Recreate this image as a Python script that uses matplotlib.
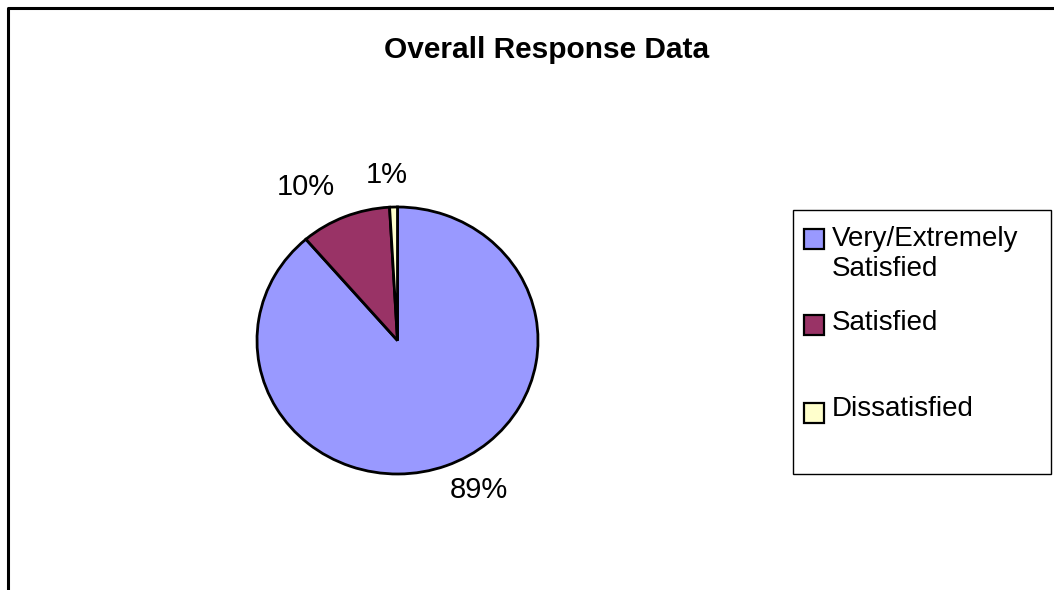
import matplotlib
matplotlib.use("Agg")
import matplotlib.pyplot as plt
from matplotlib.lines import Line2D
from matplotlib.patches import Rectangle

plt.rcParams['font.family'] = ['Liberation Sans', 'DejaVu Sans']

# ---- data ----
categories = ["Very/Extremely\nSatisfied", "Satisfied", "Dissatisfied"]
shares = [88.7, 10.4, 0.9]
colors = ["#9999FF", "#993366", "#FFFFCC"]
title = "Overall Response Data"

W, H = 1054, 590
fig = plt.figure(figsize=(W / 100, H / 100), dpi=100)
fig.patch.set_facecolor("white")


def fx(px):
    return px / W


def fy(py):
    return 1 - py / H


# pie axes (pixel bounds of the ellipse)
left, right, top, bottom = 257, 538, 207, 474
ax = fig.add_axes([fx(left), fy(bottom), (right - left) / W, (bottom - top) / H])
wedges, _ = ax.pie(shares, colors=colors, startangle=90, counterclock=False,
                   wedgeprops=dict(edgecolor="black", linewidth=2.0))
ax.set_aspect("auto")
ax.set_xlim(-1, 1)
ax.set_ylim(-1, 1)
ax.axis("off")

# percentage labels (positions in pie-radius units)
label_pos = [(0.58, -1.12), (-0.65, 1.15), (-0.075, 1.24)]
for val, (lx, ly) in zip(shares, label_pos):
    ax.text(lx, ly, f"{val:.0f}%", ha="center", va="center", fontsize=21,
            color="black", clip_on=False)

# title
fig.text(fx(547), fy(50), title, ha="center", va="center", fontsize=21.5,
         fontweight="bold")

# outer frame (top and left only visible)
fig.add_artist(Line2D([fx(7.5), fx(7.5), fx(W)], [fy(H), fy(7.5), fy(7.5)],
                      transform=fig.transFigure, color="black", linewidth=2.2))

# legend box
fig.add_artist(Rectangle((fx(793), fy(474)), (1051 - 793) / W, (474 - 210) / H,
                         transform=fig.transFigure, facecolor="white",
                         edgecolor="black", linewidth=1.0))
marker_y = [239, 325, 413]
text_y = [254, 323, 409]
for cat, col, my, ty in zip(categories, colors, marker_y, text_y):
    fig.add_artist(Rectangle((fx(804), fy(my + 10)), 20 / W, 20 / H,
                             transform=fig.transFigure, facecolor=col,
                             edgecolor="black", linewidth=1.6))
    fig.text(fx(832), fy(ty), cat, ha="left", va="center", fontsize=20,
             linespacing=1.25)

fig.savefig("out.png", dpi=100, facecolor="white")
